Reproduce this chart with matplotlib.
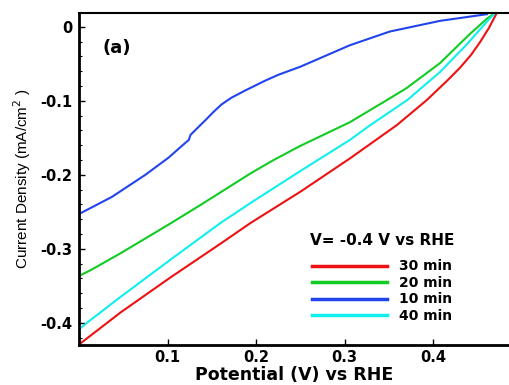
import matplotlib
matplotlib.use("Agg")
import matplotlib.pyplot as plt
from matplotlib.ticker import MultipleLocator, FixedLocator

plt.rcParams['font.family'] = ['DejaVu Sans']
plt.rcParams['axes.unicode_minus'] = False

# 30 min
x_30 = [0.0, 0.002, 0.047, 0.103, 0.160, 0.194, 0.250, 0.306, 0.359, 0.393, 0.415, 0.430, 0.443, 0.453, 0.463, 0.472]
y_30 = [-0.430, -0.4275, -0.386, -0.339, -0.293, -0.265, -0.223, -0.178, -0.133, -0.099, -0.074, -0.056, -0.038, -0.021, -0.002, 0.0185]

# 20 min
x_20 = [0.0, 0.002, 0.013, 0.047, 0.103, 0.137, 0.194, 0.220, 0.250, 0.306, 0.348, 0.370, 0.408, 0.441, 0.461, 0.470]
y_20 = [-0.337, -0.3355, -0.329, -0.306, -0.266, -0.241, -0.198, -0.180, -0.161, -0.129, -0.099, -0.083, -0.049, -0.0105, 0.011, 0.0185]

# 10 min
x_10 = [0.0, 0.037, 0.075, 0.101, 0.120, 0.124, 0.126, 0.143, 0.152, 0.161, 0.172, 0.188, 0.210, 0.225,
        0.250, 0.306, 0.351, 0.408, 0.461]
y_10 = [-0.253, -0.230, -0.200, -0.177, -0.157, -0.153, -0.146, -0.126, -0.115, -0.105, -0.096, -0.086, -0.073, -0.065,
        -0.054, -0.025, -0.0065, 0.008, 0.017]

# 40 min
x_40 = [0.0, 0.002, 0.010, 0.047, 0.103, 0.160, 0.194, 0.250, 0.306, 0.329, 0.371, 0.408, 0.438, 0.461, 0.470]
y_40 = [-0.408, -0.407, -0.399, -0.365, -0.315, -0.265, -0.238, -0.195, -0.153, -0.133, -0.099, -0.061, -0.024, 0.007, 0.0185]

labels = ['30 min', '20 min', '10 min', '40 min']
colors = ['#ee1111', '#11cc22', '#2244ee', '#11eeee']

fig = plt.figure(figsize=(5.1, 3.85), dpi=100)
ax = fig.add_axes([0.155, 0.104, 0.845, 0.863])

for xs, ys, lab, c in zip([x_30, x_20, x_10, x_40], [y_30, y_20, y_10, y_40], labels, colors):
    ax.plot(xs, ys, color=c, lw=1.5, label=lab)

ax.set_xlim(0, 0.487)
ax.set_ylim(-0.43, 0.019)

ax.xaxis.set_major_locator(FixedLocator([0.1, 0.2, 0.3, 0.4]))
ax.yaxis.set_major_locator(FixedLocator([0, -0.1, -0.2, -0.3, -0.4]))
ax.yaxis.set_minor_locator(MultipleLocator(0.02))
ax.set_yticklabels(['0', '-0.1', '-0.2', '-0.3', '-0.4'])
ax.tick_params(axis='both', which='major', direction='in', length=4.5, width=1,
               labelsize=10.5)
ax.tick_params(axis='y', which='major', pad=5)
ax.tick_params(axis='y', which='minor', direction='in', length=2.5, width=0.8)
for lab in ax.get_xticklabels() + ax.get_yticklabels():
    lab.set_fontweight('bold')

ax.spines['right'].set_visible(False)
ax.spines['left'].set_linewidth(2)
ax.spines['bottom'].set_linewidth(2)
ax.spines['top'].set_linewidth(1.5)

ax.set_xlabel('Potential (V) vs RHE', fontsize=12.5, fontweight='bold', labelpad=1)
ax.set_ylabel('Current Density (mA/cm$^2$ )', fontsize=11, labelpad=5,
              family='Liberation Sans')

ax.text(0.055, 0.88, '(a)', transform=ax.transAxes, fontsize=13, fontweight='bold')

leg = ax.legend(loc='upper left', bbox_to_anchor=(0.536, 0.336), frameon=False,
                title='V= -0.4 V vs RHE',
                prop={'weight': 'bold', 'size': 10},
                handlelength=5.4, handletextpad=0.9, labelspacing=0.18,
                borderpad=0, borderaxespad=0)
leg.get_title().set_fontweight('bold')
leg.get_title().set_fontsize(11)
leg._legend_box.sep = 8
for line in leg.get_lines():
    line.set_linewidth(2.5)

fig.savefig('out.png', dpi=100)
